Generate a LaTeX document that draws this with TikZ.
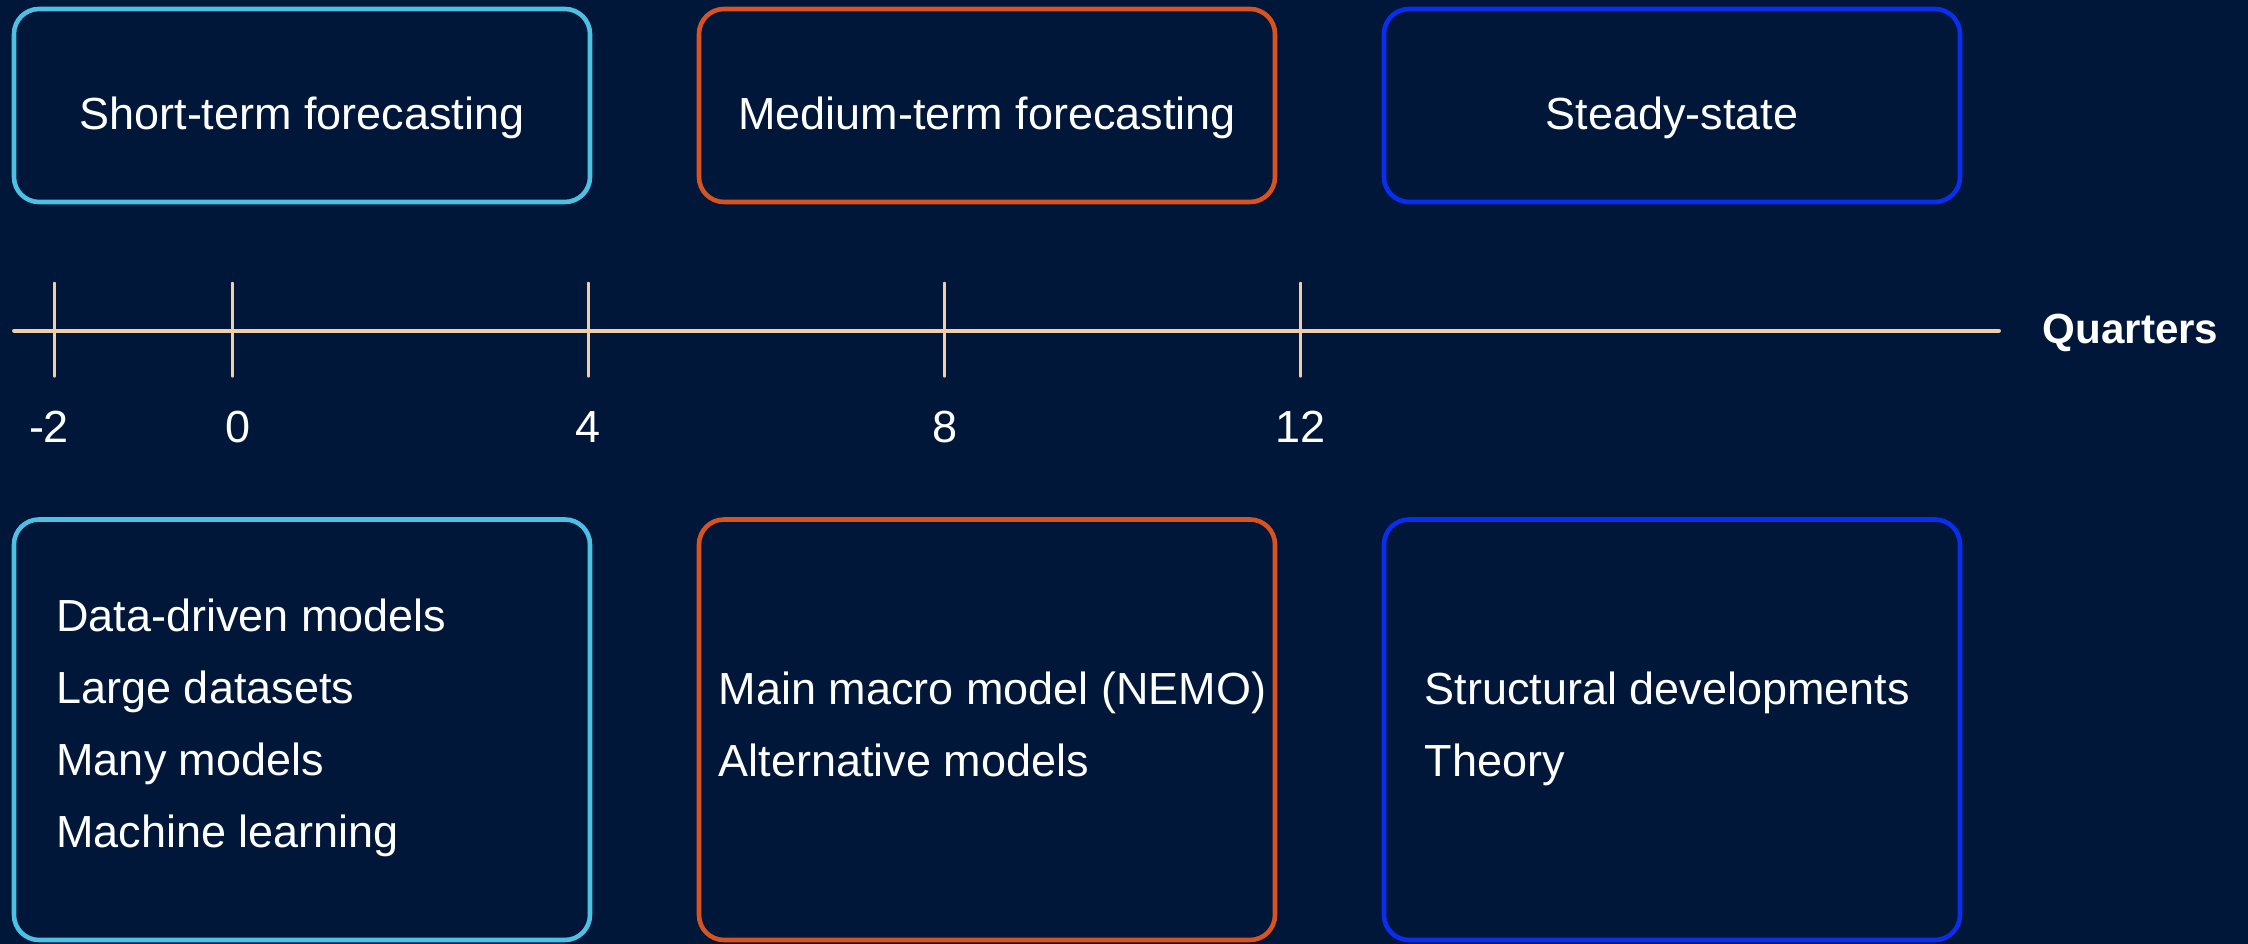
\documentclass[tikz,border=0pt]{standalone}
\usepackage{fontspec}
\setmainfont{Liberation Sans}
\usetikzlibrary{positioning}

\definecolor{navy}{HTML}{00173A}
\definecolor{shortc}{HTML}{4DC0E3}
\definecolor{mediumc}{HTML}{D9531E}
\definecolor{steadyc}{HTML}{0A2EF0}
\definecolor{axisc}{HTML}{F2CDA5}

\begin{document}
\begin{tikzpicture}[node distance=6.85cm,on grid,text=white,
    font=\fontsize{12.8}{20.5}\selectfont,
    box/.style={draw,line width=1.3pt,rounded corners=0.25cm,minimum width=5.76cm},
    head/.style={box,minimum height=1.93cm,text height=13.4pt,text depth=0pt},
    body/.style={box,minimum height=4.205cm},
    items/.style={align=left,anchor=base west,inner sep=0pt},
    ticklabel/.style={anchor=base},
    axisline/.style={draw=axisc,line width=1.1pt,line cap=round}]
    \path[use as bounding box,fill=navy] (0,0) rectangle (22.48,9.44);
    \node[head,draw=shortc] (short)            at (3.02,8.385) {Short-term forecasting};
    \node[head,draw=mediumc] (medium) [right=of short]  {Medium-term forecasting};
    \node[head,draw=steadyc] (steady) [right=of medium] {Steady-state};
    \node[body,draw=shortc] (shortb)           at (3.02,2.1425) {};
    \node[body,draw=mediumc] (mediumb) [right=of shortb]  {};
    \node[body,draw=steadyc] (steadyb) [right=of mediumb] {};
    % base anchor sits on the last line
    \node[items] (shortl)  at (0.558,0.963)
        {Data-driven models\\Large datasets\\Many models\\Machine learning};
    \node[items] (mediuml) at (7.18,1.675)
        {Main macro model (NEMO)\\Alternative models};
    \node[items] (steadyl) at (14.24,1.675)
        {Structural developments\\Theory};
    % time axis in quarters
    \coordinate (start) at (0.14,6.133);
    \coordinate (end)   at (19.99,6.133);
    \coordinate (qm2) at (0.545,6.133);
    \coordinate (q0)  at (2.325,6.133);
    \coordinate (q4)  at (5.885,6.133);
    \coordinate (q8)  at (9.445,6.133);
    \coordinate (q12) at (13.005,6.133);
    \draw[axisline] (start) -- (end);
    \draw[axisline] ([yshift=0.47cm]qm2) -- ([yshift=-0.45cm]qm2);
    \draw[axisline] ([yshift=0.47cm]q0)  -- ([yshift=-0.45cm]q0);
    \draw[axisline] ([yshift=0.47cm]q4)  -- ([yshift=-0.45cm]q4);
    \draw[axisline] ([yshift=0.47cm]q8)  -- ([yshift=-0.45cm]q8);
    \draw[axisline] ([yshift=0.47cm]q12) -- ([yshift=-0.45cm]q12);
    \node[ticklabel] (lm2) at ([xshift=-0.055cm,yshift=-1.12cm]qm2) {-2};
    \node[ticklabel] (l0)  at ([xshift=0.055cm,yshift=-1.12cm]q0)   {0};
    \node[ticklabel] (l4)  at ([yshift=-1.12cm]q4)  {4};
    \node[ticklabel] (l8)  at ([yshift=-1.12cm]q8)  {8};
    \node[ticklabel] (l12) at ([yshift=-1.12cm]q12) {12};
    \node[ticklabel,font=\fontsize{12}{14}\selectfont\bfseries] (quarters) at (21.305,6.007) {Quarters};
\end{tikzpicture}
\end{document}
